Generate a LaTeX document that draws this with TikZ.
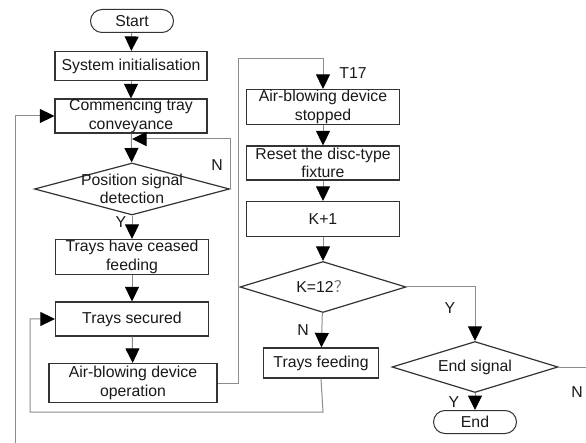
\documentclass[tikz,border=0pt]{standalone}
\usepackage{fontspec}
\setmainfont{Liberation Sans}
\newfontfamily\cjk{Noto Sans CJK SC}
\usetikzlibrary{arrows.meta,shapes.geometric}

\tikzset{
  x=1pt, y=-1pt,
  every node/.style={font=\fontsize{15.8}{18.5}\selectfont, text=black!90},
  procbox/.style={draw=black!80, line width=1.2pt, rectangle, inner sep=0pt, align=center},
  pill/.style={draw=black!80, line width=1pt, rectangle, rounded corners=11.5pt, inner sep=0pt,
               minimum width=83pt, minimum height=23pt},
  decision/.style={draw=black!80, line width=1.2pt, diamond, inner sep=0pt},
  link/.style={draw=black!45, line width=1pt},
  flow/.style={link, -{Triangle[length=14.5pt, width=14pt, color=black]}},
  tag/.style={inner sep=0pt}
}

\begin{document}
\begin{tikzpicture}
\useasboundingbox (0,0) rectangle (586,443);
\fill[white] (0,0) rectangle (586,443);

% main column
\node[pill] (start) at (132,21) {Start};
\node[procbox, minimum width=152pt, minimum height=29pt] (init) at (131,66) {System initialisation};
\node[procbox, minimum width=152pt, minimum height=34pt] (conv) at (131,116) {Commencing tray\\conveyance};
\node[decision, minimum width=195pt, minimum height=52pt,
      label={[align=center, font=\fontsize{15.8}{18.5}\selectfont]center:Position signal\\detection}] (pos) at (132,189) {};
\node[procbox, minimum width=153pt, minimum height=35pt] (cease) at (132,257) {Trays have ceased\\feeding};
\node[procbox, minimum width=153pt, minimum height=34pt] (secure) at (132,319) {Trays secured};
\node[procbox, minimum width=168pt, minimum height=39pt] (blowon) at (133,383) {Air-blowing device\\operation};

% second column
\node[procbox, minimum width=153pt, minimum height=35pt] (blowoff) at (323,107) {Air-blowing device\\stopped};
\node[procbox, minimum width=153pt, minimum height=34pt] (reset) at (323,163) {Reset the disc-type\\fixture};
\node[procbox, minimum width=153pt, minimum height=35pt] (kinc) at (323,219) {K+1};
\node[decision, minimum width=166pt, minimum height=51pt,
      label={center:K=12{\color{black!55}\cjk ？}}] (kq) at (323,287) {};
\node[procbox, minimum width=115pt, minimum height=30pt] (feed) at (321,363) {Trays feeding};
\node[decision, minimum width=166pt, minimum height=51pt,
      label={center:End signal}] (endsig) at (475,367) {};
\node[pill] (stop) at (475,422) {End};

% branch labels
\node[tag] (lblN1) at (217,165) {N};
\node[tag] (lblY1) at (121,222) {Y};
\node[tag] (lblT) at (353,73) {T17};
\node[tag] (lblN2) at (303,330) {N};
\node[tag] (lblY2) at (450,308) {Y};
\node[tag] (lblY3) at (454,402) {Y};
\node[tag] (lblN3) at (577,392) {N};

% turning points and free ends
\coordinate (posret) at (230,139);
\coordinate (posin) at (132,139);
\coordinate (upturn) at (238,59);
\coordinate (loopL) at (30,412);
\coordinate (feedturn) at (323,412);
\coordinate (outL) at (15,443);
\coordinate (outR) at (586,367);

% straight flow
\draw[flow] (start) -- (init);
\draw[flow] (init) -- (conv);
\draw[flow] (conv) -- (pos);
\draw[flow] (pos) -- (cease);
\draw[flow] (cease) -- (secure);
\draw[flow] (secure) -- (blowon);
\draw[flow] (blowoff) -- (reset);
\draw[flow] (reset) -- (kinc);
\draw[flow] (kinc) -- (kq);
\draw[flow] (kq) -- (feed);
\draw[flow] (endsig) -- (stop);

% loops and branches
\draw[flow] (pos.east) |- (posin);
\draw[flow] (blowon.east) -| (upturn) -| (blowoff.north);
\draw[flow] (kq.east) -| (endsig.north);
\draw[flow] (feed.south) -- (feedturn) -- (loopL) |- (secure.west);
\draw[flow] (outL) |- (conv.west);
\draw[link] (endsig.east) -- (outR);
\end{tikzpicture}
\end{document}
